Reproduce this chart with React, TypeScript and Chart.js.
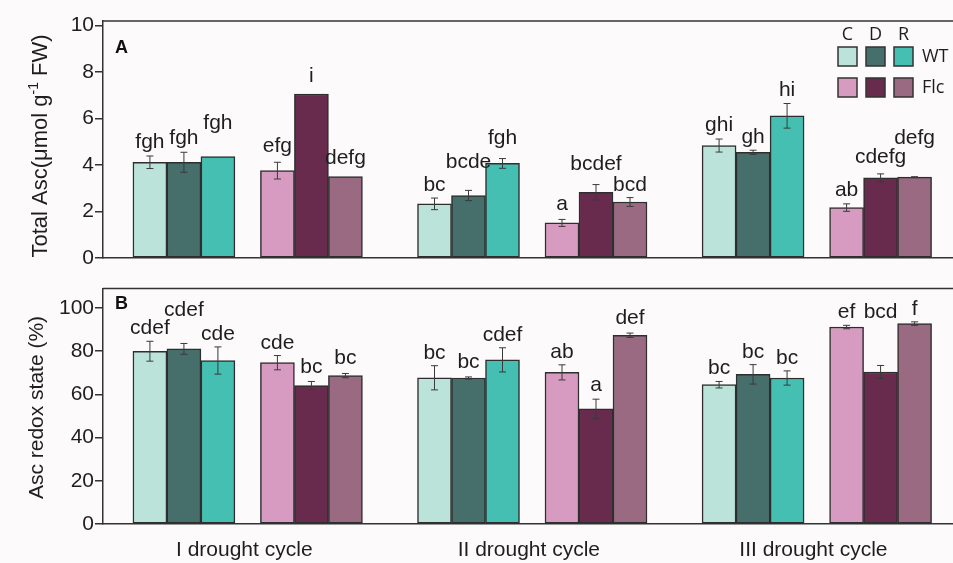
import React, { useEffect, useRef } from "react";
import { Chart, registerables } from "chart.js";

Chart.register(...registerables);

// ---------- data ----------
const cycles = ["I drought cycle", "II drought cycle", "III drought cycle"];
const genotypes = ["WT", "Flc"];
const treatments = ["C", "D", "R"];

// order inside each cycle: WT C, WT D, WT R, Flc C, Flc D, Flc R
const ascValues = [
  4.12, 4.12, 4.37, 3.76, 7.06, 3.5,
  2.33, 2.69, 4.07, 1.51, 2.83, 2.41,
  4.84, 4.55, 6.12, 2.17, 3.45, 3.48,
];
const ascErrors = [
  0.27, 0.43, 0, 0.36, 0, 0,
  0.25, 0.22, 0.21, 0.15, 0.33, 0.19,
  0.28, 0.09, 0.53, 0.16, 0.17, 0.02,
];
const ascLetters = [
  "fgh", "fgh", "fgh", "efg", "i", "defg",
  "bc", "bcde", "fgh", "a", "bcdef", "bcd",
  "ghi", "gh", "hi", "ab", "cdefg", "defg",
];

const redoxValues = [
  80.0, 81.1, 75.7, 74.7, 64.1, 68.7,
  67.7, 67.6, 76.0, 70.2, 53.3, 87.4,
  64.5, 69.3, 67.6, 91.2, 70.4, 92.8,
];
const redoxErrors = [
  4.6, 2.5, 6.3, 3.3, 1.9, 1.0,
  5.6, 0.5, 5.6, 3.5, 4.5, 1.0,
  1.5, 4.5, 3.3, 0.8, 3.0, 0.8,
];
const redoxLetters = [
  "cdef", "cdef", "cde", "cde", "bc", "bc",
  "bc", "bc", "cdef", "ab", "a", "def",
  "bc", "bc", "bc", "ef", "bcd", "f",
];

const ascTicks = [0, 2, 4, 6, 8, 10];
const redoxTicks = [0, 20, 40, 60, 80, 100];

// ---------- styling / layout (not data) ----------
const seriesColors = ["#bce3da", "#466e6a", "#44bfb1", "#d79bc1", "#692b4d", "#996a82"];
const ascLabelLift = [1, 1, 20, 3, 5, 6, 0, 15, 8, 2, 8, 0, 1, 0, 0, 1, 4, 26];
const redoxLabelLift = [0, 20, 0, 0, 1, 2, 0, 2, 0, 0, 1, 2, 0, 0, 0, 0, 40, 0];

const FONT = "'Liberation Sans', Arial, Helvetica, sans-serif";
const LEGEND_FONT = "'Open Sans', 'Noto Sans', sans-serif";
const AXIS = "#333333";
const BG = "#fcfafa";
const W = 953;
const HA = 275;
const HB = 288;

const X0 = 1.38;
const CYCLE_STEP = 8.37;
const GROUP_STEP = 3.75;
const xPos = (c: number, s: number) =>
  X0 + c * CYCLE_STEP + Math.floor(s / 3) * GROUP_STEP + (s % 3);
const cycleCenter = (c: number) => X0 + c * CYCLE_STEP + (GROUP_STEP + 2) / 2 - 0.1;

function buildDatasets(values: number[]) {
  const ds: any[] = [];
  for (let s = 0; s < 6; s++) {
    ds.push({
      label: `${genotypes[Math.floor(s / 3)]} ${treatments[s % 3]}`,
      data: cycles.map((_, c) => ({ x: xPos(c, s), y: values[c * 6 + s] })),
      backgroundColor: seriesColors[s],
      borderColor: "#2e2e2e",
      borderWidth: 1.5,
      borderSkipped: false,
      barThickness: 34,
      grouped: false,
    });
  }
  return ds;
}

function annotPlugin(
  values: number[],
  errors: number[],
  letters: string[],
  lifts: number[],
  extra: (ctx: CanvasRenderingContext2D, chart: any) => void
) {
  return {
    id: "annot",
    afterDatasetsDraw(chart: any) {
      const ctx = chart.ctx as CanvasRenderingContext2D;
      const y = chart.scales.y;
      ctx.save();
      chart.data.datasets.forEach((_: any, s: number) => {
        const meta = chart.getDatasetMeta(s);
        meta.data.forEach((bar: any, c: number) => {
          const i = c * 6 + s;
          const v = values[i];
          const e = errors[i];
          const cx = bar.x;
          if (e > 0) {
            const yt = y.getPixelForValue(v + e);
            const yb = y.getPixelForValue(v - e);
            ctx.strokeStyle = "#3a3a3a";
            ctx.lineWidth = 1;
            ctx.beginPath();
            ctx.moveTo(cx, yt);
            ctx.lineTo(cx, yb);
            ctx.moveTo(cx - 3.5, yt);
            ctx.lineTo(cx + 3.5, yt);
            ctx.moveTo(cx - 3.5, yb);
            ctx.lineTo(cx + 3.5, yb);
            ctx.stroke();
          }
          ctx.fillStyle = "#1e1e1e";
          ctx.font = `21px ${FONT}`;
          ctx.textAlign = "center";
          ctx.textBaseline = "alphabetic";
          ctx.fillText(letters[i], cx, y.getPixelForValue(v + e) - 7 - lifts[i]);
        });
      });
      ctx.restore();
    },
    afterDraw(chart: any) {
      const ctx = chart.ctx as CanvasRenderingContext2D;
      const a = chart.chartArea;
      ctx.save();
      ctx.strokeStyle = AXIS;
      ctx.lineWidth = 1.5;
      ctx.beginPath();
      ctx.moveTo(a.left, a.top);
      ctx.lineTo(a.right + 2, a.top);
      ctx.stroke();
      extra(ctx, chart);
      ctx.restore();
    },
  };
}

function makeOptions(opts: {
  max: number;
  ticks: number[];
  padTop: number;
  xHeight: number;
  showX: boolean;
}) {
  return {
    responsive: false,
    animation: false,
    layout: { padding: { top: opts.padTop, right: 0, bottom: 0, left: 0 } },
    plugins: { legend: { display: false }, tooltip: { enabled: false } },
    scales: {
      x: {
        type: "linear",
        min: 0,
        max: 25,
        offset: false,
        bounds: "data",
        grid: { display: false, drawTicks: false, offset: false },
        border: { display: true, color: AXIS, width: 1.5 },
        afterBuildTicks: (scale: any) => {
          scale.ticks = cycles.map((_, c) => ({ value: cycleCenter(c) }));
        },
        ticks: {
          display: opts.showX,
          autoSkip: false,
          maxRotation: 0,
          padding: 14,
          color: "#1e1e1e",
          font: { family: FONT, size: 21 },
          callback: (_v: any, i: number) => cycles[i],
        },
        afterFit: (scale: any) => {
          scale.height = opts.xHeight;
        },
      },
      y: {
        type: "linear",
        min: 0,
        max: opts.max,
        afterBuildTicks: (scale: any) => {
          scale.ticks = opts.ticks.map((v) => ({ value: v }));
        },
        ticks: {
          padding: 1,
          color: "#1e1e1e",
          font: { family: FONT, size: 21 },
        },
        grid: {
          display: true,
          drawOnChartArea: false,
          drawTicks: true,
          tickLength: 8,
          color: AXIS,
          lineWidth: 1.5,
        },
        border: { display: true, color: AXIS, width: 1.5 },
        afterFit: (scale: any) => {
          scale.width = 103;
        },
      },
    },
  };
}

function drawLegendAndTitleA(ctx: CanvasRenderingContext2D) {
  // panel letter
  ctx.fillStyle = "#111";
  ctx.font = `bold 18px ${FONT}`;
  ctx.textAlign = "left";
  ctx.textBaseline = "alphabetic";
  ctx.fillText("A", 115, 53);

  // y title with superscript
  ctx.save();
  ctx.translate(0, 146);
  ctx.rotate(-Math.PI / 2);
  const main = `22px ${FONT}`;
  const sup = `14px ${FONT}`;
  const p1 = "Total Asc(\u03bcmol g";
  const p2 = "-1";
  const p3 = " FW)";
  ctx.font = main;
  const w1 = ctx.measureText(p1).width;
  const w3 = ctx.measureText(p3).width;
  ctx.font = sup;
  const w2 = ctx.measureText(p2).width;
  const total = w1 + w2 + w3;
  let u = -total / 2;
  ctx.fillStyle = "#1e1e1e";
  ctx.textAlign = "left";
  ctx.textBaseline = "alphabetic";
  ctx.font = main;
  ctx.fillText(p1, u, 47);
  u += w1;
  ctx.font = sup;
  ctx.fillText(p2, u, 38);
  u += w2;
  ctx.font = main;
  ctx.fillText(p3, u, 47);
  ctx.restore();

  // legend
  const colsX = [838, 866, 894];
  const rowsY = [47, 78];
  ctx.font = `18px ${LEGEND_FONT}`;
  ctx.fillStyle = "#1e1e1e";
  ctx.textAlign = "center";
  ctx.textBaseline = "middle";
  treatments.forEach((t, k) => ctx.fillText(t, colsX[k] + 9.5, 35));
  genotypes.forEach((g, r) => {
    treatments.forEach((_, k) => {
      ctx.fillStyle = seriesColors[r * 3 + k];
      ctx.fillRect(colsX[k], rowsY[r], 19, 19);
      ctx.strokeStyle = "#333";
      ctx.lineWidth = 1.5;
      ctx.strokeRect(colsX[k], rowsY[r], 19, 19);
    });
    ctx.fillStyle = "#1e1e1e";
    ctx.textAlign = "left";
    ctx.fillText(g, 922, rowsY[r] + 10);
    ctx.textAlign = "center";
  });
}

function drawTitleB(ctx: CanvasRenderingContext2D) {
  ctx.fillStyle = "#111";
  ctx.font = `bold 18px ${FONT}`;
  ctx.textAlign = "left";
  ctx.textBaseline = "alphabetic";
  ctx.fillText("B", 115, 34);

  ctx.save();
  ctx.translate(0, 132.5);
  ctx.rotate(-Math.PI / 2);
  ctx.font = `21px ${FONT}`;
  ctx.fillStyle = "#1e1e1e";
  ctx.textAlign = "center";
  ctx.textBaseline = "alphabetic";
  ctx.fillText("Asc redox state (%)", 0, 43);
  ctx.restore();
}

export default function App() {
  const refA = useRef<HTMLCanvasElement>(null);
  const refB = useRef<HTMLCanvasElement>(null);

  useEffect(() => {
    const chartA = new Chart(refA.current as HTMLCanvasElement, {
      type: "bar",
      data: { datasets: buildDatasets(ascValues) },
      options: makeOptions({ max: 10.2, ticks: ascTicks, padTop: 21, xHeight: HA - 258, showX: false }) as any,
      plugins: [annotPlugin(ascValues, ascErrors, ascLetters, ascLabelLift, (ctx) => drawLegendAndTitleA(ctx))],
    });
    const chartB = new Chart(refB.current as HTMLCanvasElement, {
      type: "bar",
      data: { datasets: buildDatasets(redoxValues) },
      options: makeOptions({ max: 109, ticks: redoxTicks, padTop: 12, xHeight: HB - 249, showX: true }) as any,
      plugins: [annotPlugin(redoxValues, redoxErrors, redoxLetters, redoxLabelLift, (ctx) => drawTitleB(ctx))],
    });
    return () => {
      chartA.destroy();
      chartB.destroy();
    };
  }, []);

  return (
    <div
      style={{
        position: "absolute",
        left: 0,
        top: 0,
        width: W,
        height: HA + HB,
        background: BG,
        overflow: "hidden",
      }}
    >
      <canvas ref={refA} width={W} height={HA} style={{ display: "block" }} />
      <canvas ref={refB} width={W} height={HB} style={{ display: "block" }} />
    </div>
  );
}
